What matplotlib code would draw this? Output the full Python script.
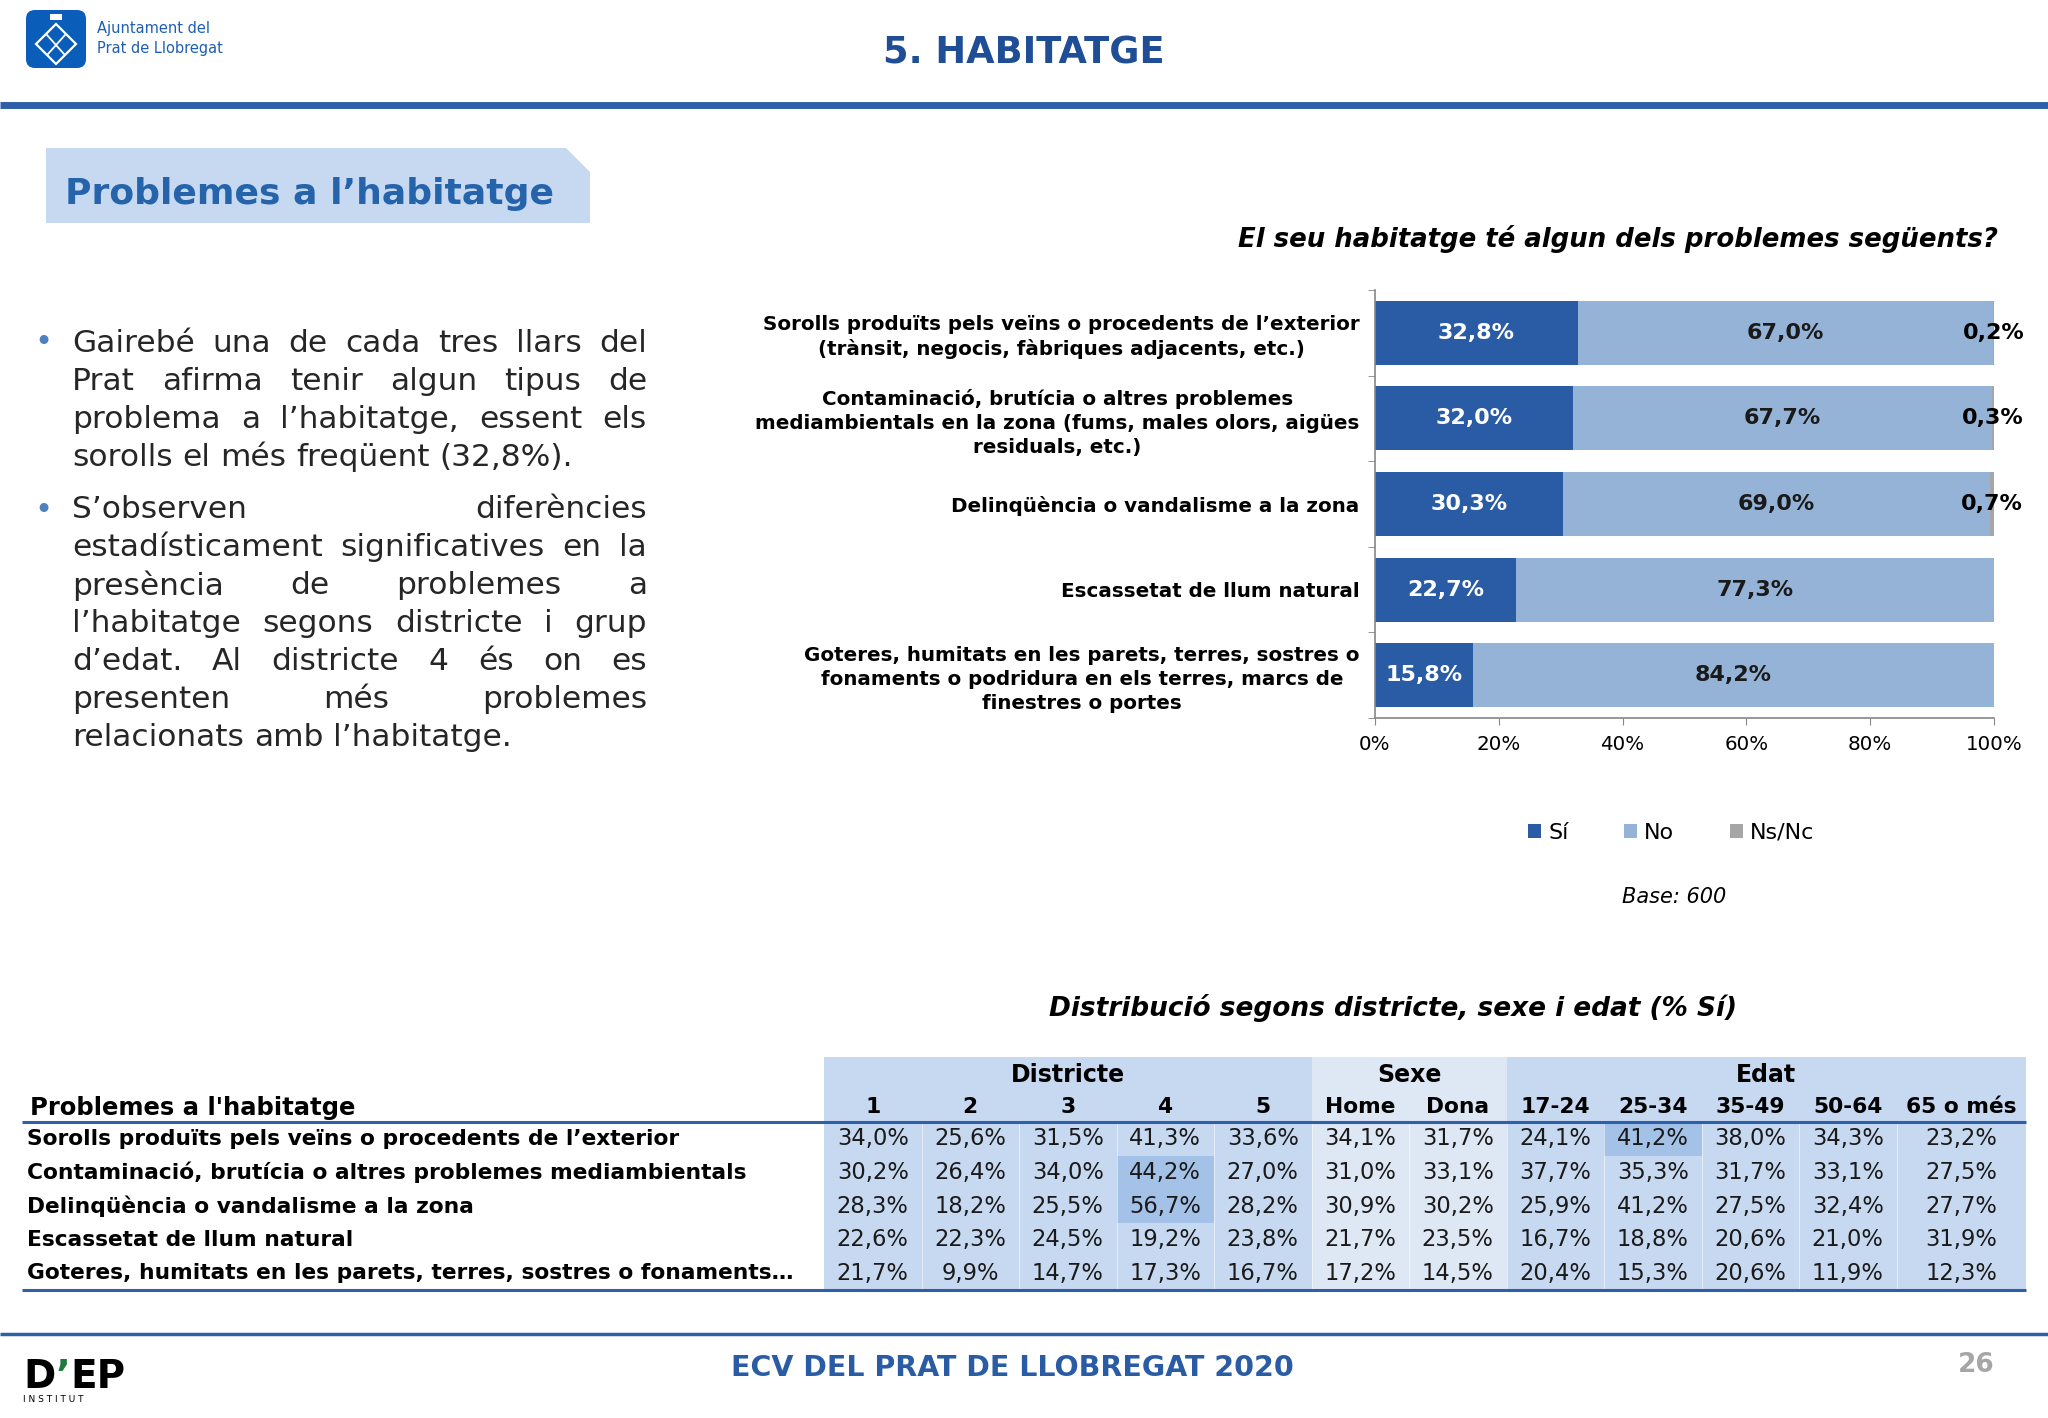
import matplotlib
matplotlib.use("Agg")
import matplotlib.pyplot as plt
from matplotlib.patches import Polygon, FancyBboxPatch, Rectangle
import numpy as np

W, H, DPI = 2048, 1418, 100

# ---------------- data ----------------
categories = [
    "Sorolls produïts pels veïns o procedents de l’exterior\n(trànsit, negocis, fàbriques adjacents, etc.)",
    "Contaminació, brutícia o altres problemes\nmediambientals en la zona (fums, males olors, aigües\nresiduals, etc.)",
    "Delinqüència o vandalisme a la zona",
    "Escassetat de llum natural",
    "Goteres, humitats en les parets, terres, sostres o\nfonaments o podridura en els terres, marcs de\nfinestres o portes",
]
si = [32.8, 32.0, 30.3, 22.7, 15.8]
no = [67.0, 67.7, 69.0, 77.3, 84.2]
nsnc = [0.2, 0.3, 0.7, 0.0, 0.0]
series_names = ["Sí", "No", "Ns/Nc"]
x_ticks = [0, 20, 40, 60, 80, 100]

table_rows = [
    "Sorolls produïts pels veïns o procedents de l’exterior",
    "Contaminació, brutícia o altres problemes mediambientals",
    "Delinqüència o vandalisme a la zona",
    "Escassetat de llum natural",
    "Goteres, humitats en les parets, terres, sostres o fonaments…",
]
group_labels = ["Districte", "Sexe", "Edat"]
group_sizes = [5, 2, 5]
col_labels = ["1", "2", "3", "4", "5", "Home", "Dona",
              "17-24", "25-34", "35-49", "50-64", "65 o més"]
table_values = [
    [34.0, 25.6, 31.5, 41.3, 33.6, 34.1, 31.7, 24.1, 41.2, 38.0, 34.3, 23.2],
    [30.2, 26.4, 34.0, 44.2, 27.0, 31.0, 33.1, 37.7, 35.3, 31.7, 33.1, 27.5],
    [28.3, 18.2, 25.5, 56.7, 28.2, 30.9, 30.2, 25.9, 41.2, 27.5, 32.4, 27.7],
    [22.6, 22.3, 24.5, 19.2, 23.8, 21.7, 23.5, 16.7, 18.8, 20.6, 21.0, 31.9],
    [21.7, 9.9, 14.7, 17.3, 16.7, 17.2, 14.5, 20.4, 15.3, 20.6, 11.9, 12.3],
]
highlight_cells = [(0, 8), (1, 3), (2, 3)]

bullet_paragraphs = [
    ["Gairebé una de cada tres llars del",
     "Prat afirma tenir algun tipus de",
     "problema a l’habitatge, essent els",
     "sorolls el més freqüent (32,8%)."],
    ["S’observen diferències",
     "estadísticament significatives en la",
     "presència de problemes a",
     "l’habitatge segons districte i grup",
     "d’edat. Al districte 4 és on es",
     "presenten més problemes",
     "relacionats amb l’habitatge."],
]

# ---------------- styles ----------------
C_SI, C_NO, C_NS = "#2A5CA6", "#95B3D7", "#A6A6A6"
C_LINE = "#2E5FA8"
C_TITLE = "#1F4E96"
C_BG, C_BG2, C_HL = "#C7D9F1", "#DEE7F4", "#A4C2E8"

plt.rcParams["font.family"] = ["DejaVu Sans"]

fig = plt.figure(figsize=(W / DPI, H / DPI), dpi=DPI)
fig.patch.set_facecolor("white")
ov = fig.add_axes([0, 0, 1, 1])
ov.set_xlim(0, W)
ov.set_ylim(H, 0)
ov.axis("off")
renderer = fig.canvas.get_renderer()


def fmt(v):
    return f"{v:.1f}".replace(".", ",") + "%"


# ---------------- header ----------------
ov.add_patch(FancyBboxPatch((26, 10), 60, 58, boxstyle="round,pad=0,rounding_size=9",
                            fc="#0A5DB8", ec="none"))
ov.add_patch(Polygon([(56, 24), (76, 44), (56, 64), (36, 44)], closed=True,
                     fc="none", ec="white", lw=1.6))
ov.plot([47, 64], [35, 54], color="white", lw=1.3)
ov.plot([65, 48], [35, 54], color="white", lw=1.3)
ov.add_patch(Rectangle((50, 14), 12, 6, fc="white", ec="none"))
ov.text(97, 29, "Ajuntament del", fontsize=10.5, color="#1F5FB0", va="center")
ov.text(97, 49, "Prat de Llobregat", fontsize=10.5, color="#1F5FB0", va="center")
ov.text(1024, 53, "5. HABITATGE", fontsize=26.5, weight="bold", color=C_TITLE,
        ha="center", va="center")
ov.plot([0, W], [105, 105], color=C_LINE, lw=5, solid_capstyle="butt")

# section box
ov.add_patch(Polygon([(46, 148), (566, 148), (590, 172), (590, 223), (46, 223)],
                     closed=True, fc="#C6D9F1", ec="none"))
ov.text(65, 194, "Problemes a l’habitatge", fontsize=26, weight="bold",
        color="#2563AA", va="center")

# ---------------- bullets (justified) ----------------
FS_B = 22.5
space_px = 0.318 * FS_B * 100 / 72


def draw_line(line, xl, xr, y, justify):
    words = line.split(" ")
    texts = [ov.text(0, y, w, fontsize=FS_B, color="#262626", va="center") for w in words]
    widths = [t.get_window_extent(renderer).width for t in texts]
    if justify and len(words) > 1:
        gap = (xr - xl - sum(widths)) / (len(words) - 1)
    else:
        gap = space_px
    x = xl
    for t, w in zip(texts, widths):
        t.set_x(x)
        x += w + gap


para_y = [343, 510]
for p, lines in enumerate(bullet_paragraphs):
    y0 = para_y[p]
    ov.text(43, y0, "•", fontsize=22, color="#4F81BD", va="center", ha="center")
    for k, line in enumerate(lines):
        draw_line(line, 72, 647, y0 + 38 * k, justify=(k < len(lines) - 1))

# ---------------- bar chart ----------------
ov.text(1998, 239, "El seu habitatge té algun dels problemes següents?", fontsize=18.7,
        weight="bold", style="italic", ha="right", va="center")

ax = fig.add_axes([1375 / W, 1 - 718 / H, (1994 - 1375) / W, (718 - 290) / H])
yy = np.arange(len(categories))
si_a, no_a, ns_a = np.array(si), np.array(no), np.array(nsnc)
b1 = ax.barh(yy, si_a, height=0.75, color=C_SI, label=series_names[0])
b2 = ax.barh(yy, no_a, left=si_a, height=0.75, color=C_NO, label=series_names[1])
b3 = ax.barh(yy, ns_a, left=si_a + no_a, height=0.75, color=C_NS, label=series_names[2])
ax.set_xlim(0, 100)
ax.set_ylim(len(categories) - 0.5, -0.5)

for i in range(len(categories)):
    ax.text(si_a[i] / 2, i, fmt(si_a[i]), ha="center", va="center", color="white",
            fontsize=16, weight="bold")
    ax.text(si_a[i] + no_a[i] / 2, i, fmt(no_a[i]), ha="center", va="center",
            color="#1A1A1A", fontsize=16, weight="bold")
    if ns_a[i] > 0:
        ax.text(si_a[i] + no_a[i] + ns_a[i] / 2, i, fmt(ns_a[i]), ha="center",
                va="center", color="black", fontsize=16, weight="bold", clip_on=False)

for s in ["top", "right"]:
    ax.spines[s].set_visible(False)
for s in ["left", "bottom"]:
    ax.spines[s].set_color("#868686")
    ax.spines[s].set_linewidth(1.2)
ax.set_xticks(x_ticks, labels=[f"{t}%" for t in x_ticks])
ax.tick_params(axis="x", length=5, color="#868686", labelsize=14.3, pad=7)
ax.set_yticks(yy, labels=categories)
ax.set_yticks(np.arange(-0.5, len(categories), 1.0), minor=True)
ax.tick_params(axis="y", which="major", length=0, pad=11, labelsize=14.3)
ax.tick_params(axis="y", which="minor", length=5, color="#868686")
for lbl in ax.get_yticklabels():
    lbl.set_multialignment("center")
    lbl.set_fontweight("bold")
    lbl.set_linespacing(1.32)
ax.set_facecolor("none")

fig.legend(handles=[b1, b2, b3], labels=series_names, loc="center",
           bbox_to_anchor=(1671 / W, 1 - 833 / H), ncol=3, frameon=False, fontsize=16,
           handlelength=0.6, handleheight=0.6, handletextpad=0.3, columnspacing=2.5)
ov.text(1674, 897, "Base: 600", fontsize=15, style="italic", ha="center", va="center")

# ---------------- table ----------------
ov.text(1393, 1008, "Distribució segons districte, sexe i edat (% Sí)", fontsize=19,
        weight="bold", style="italic", ha="center", va="center")

col_w = [97.5] * 11 + [129.5]
x0 = 824
edges = x0 + np.concatenate([[0], np.cumsum(col_w)])
top, hline, bottom = 1057, 1122, 1290
row_h = (bottom - hline) / len(table_rows)
group_bg = [C_BG, C_BG2, C_BG]
start = 0
for g, n in enumerate(group_sizes):
    xa, xb = edges[start], edges[start + n]
    ov.add_patch(Rectangle((xa, top), xb - xa, bottom - top, fc=group_bg[g], ec="none"))
    ov.text((xa + xb) / 2, 1075, group_labels[g], fontsize=17, weight="bold",
            ha="center", va="center")
    start += n
for (r, c) in highlight_cells:
    ov.add_patch(Rectangle((edges[c], hline + r * row_h), col_w[c], row_h,
                           fc=C_HL, ec="none"))
for j in range(1, len(col_w)):
    ov.plot([edges[j], edges[j]], [hline, bottom], color="white", lw=0.6, alpha=0.6)

centers = (edges[:-1] + edges[1:]) / 2
for j, lab in enumerate(col_labels):
    ov.text(centers[j], 1107, lab, fontsize=15.7, weight="bold", ha="center", va="center")
ov.text(30, 1108, "Problemes a l'habitatge", fontsize=17.5, weight="bold", va="center")

for i, rlab in enumerate(table_rows):
    yc = hline + (i + 0.5) * row_h
    ov.text(27, yc, rlab, fontsize=15.7, weight="bold", va="center")
    for j, v in enumerate(table_values[i]):
        ov.text(centers[j], yc, fmt(v), fontsize=16.3, ha="center", va="center",
                color="#1A1A1A")

ov.plot([22, edges[-1]], [hline, hline], color=C_LINE, lw=2.2, solid_capstyle="butt")
ov.plot([22, edges[-1]], [bottom, bottom], color=C_LINE, lw=2.2, solid_capstyle="butt")

# ---------------- footer ----------------
ov.plot([0, W], [1334, 1334], color=C_LINE, lw=2.5, solid_capstyle="butt")
ov.text(1012, 1368, "ECV DEL PRAT DE LLOBREGAT 2020", fontsize=20.5, weight="bold",
        color="#2A5CA6", ha="center", va="center")
ov.text(1976, 1365, "26", fontsize=19, weight="bold", color="#A6A6A6",
        ha="center", va="center")

xx = 23
for piece, col in [("D", "black"), ("’", "#1E7A3C"), ("EP", "black")]:
    t = ov.text(xx, 1388, piece, fontsize=28, weight="bold", color=col, va="baseline")
    xx += t.get_window_extent(renderer).width
ov.text(23, 1399, "I N S T I T U T", fontsize=6.5, va="center")

fig.savefig("out.png", dpi=DPI, facecolor="white")
